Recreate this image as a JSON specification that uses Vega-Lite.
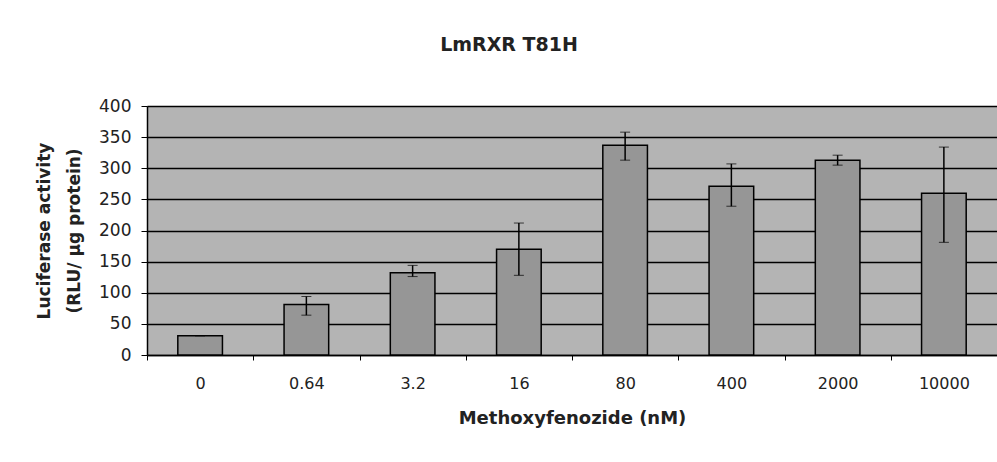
{
  "$schema": "https://vega.github.io/schema/vega-lite/v6.json",
  "width": 850,
  "height": 249,
  "autosize": {"type": "none"},
  "padding": {"left": 147, "top": 106, "right": 0, "bottom": 107},
  "background": "white",
  "title": {
    "text": "LmRXR T81H",
    "font": "DejaVu Sans",
    "fontSize": 19,
    "fontWeight": "bold",
    "color": "#222",
    "anchor": "middle",
    "dx": -63,
    "offset": 42
  },
  "data": {
    "values": [
      {"dose": "0", "mean": 31, "lo": 31, "hi": 31},
      {"dose": "0.64", "mean": 81, "lo": 64, "hi": 94},
      {"dose": "3.2", "mean": 132, "lo": 126, "hi": 144},
      {"dose": "16", "mean": 170, "lo": 128, "hi": 212},
      {"dose": "80", "mean": 337, "lo": 313, "hi": 358},
      {"dose": "400", "mean": 271, "lo": 239, "hi": 307},
      {"dose": "2000", "mean": 313, "lo": 305, "hi": 321},
      {"dose": "10000", "mean": 260, "lo": 181, "hi": 334}
    ]
  },
  "encoding": {
    "x": {
      "field": "dose",
      "type": "nominal",
      "sort": null,
      "scale": {"paddingInner": 0, "paddingOuter": 0},
      "axis": {
        "title": "Methoxyfenozide (nM)",
        "titleFont": "DejaVu Sans",
        "titleFontSize": 18,
        "titleFontWeight": "bold",
        "titleColor": "#222",
        "titlePadding": 18,
        "labelFont": "DejaVu Sans",
        "labelFontSize": 16,
        "labelColor": "#222",
        "labelAngle": 0,
        "labelPadding": 15,
        "tickBand": "extent",
        "tickSize": 5,
        "tickColor": "black",
        "domainColor": "black",
        "domainWidth": 1.5,
        "grid": false
      }
    }
  },
  "layer": [
    {
      "mark": {"type": "bar", "width": {"band": 0.42}, "fill": "#969696", "stroke": "black", "strokeWidth": 1.5},
      "encoding": {
        "y": {
          "field": "mean",
          "type": "quantitative",
          "scale": {"domain": [0, 400]},
          "title": ["Luciferase activity", "(RLU/ µg protein)"],
          "axis": {
            "values": [0, 50, 100, 150, 200, 250, 300, 350, 400],
            "titleFont": "DejaVu Sans",
            "titleFontSize": 17,
            "titleFontWeight": "bold",
            "titleColor": "#222",
            "titleLineHeight": 30,
            "titlePadding": 15,
            "labelFont": "DejaVu Sans",
            "labelFontSize": 17,
            "labelColor": "#222",
            "labelPadding": 10,
            "tickSize": 6,
            "tickColor": "black",
            "domainColor": "black",
            "domainWidth": 1.5,
            "grid": true,
            "gridColor": "black",
            "gridWidth": 1.5
          }
        }
      }
    },
    {
      "mark": {"type": "errorbar", "ticks": {"size": 10, "color": "black", "strokeWidth": 1.5}, "rule": {"color": "black", "strokeWidth": 1.5}},
      "encoding": {
        "y": {
          "field": "lo",
          "type": "quantitative",
          "title": ["Luciferase activity", "(RLU/ µg protein)"],
          "axis": {
            "values": [0, 50, 100, 150, 200, 250, 300, 350, 400],
            "titleFont": "DejaVu Sans",
            "titleFontSize": 17,
            "titleFontWeight": "bold",
            "titleColor": "#222",
            "titleLineHeight": 30,
            "titlePadding": 15,
            "labelFont": "DejaVu Sans",
            "labelFontSize": 17,
            "labelColor": "#222",
            "labelPadding": 10,
            "tickSize": 6,
            "tickColor": "black",
            "domainColor": "black",
            "domainWidth": 1.5,
            "grid": true,
            "gridColor": "black",
            "gridWidth": 1.5
          }
        },
        "y2": {"field": "hi"}
      }
    }
  ],
  "config": {
    "view": {"fill": "#b4b4b4", "stroke": null}
  }
}
